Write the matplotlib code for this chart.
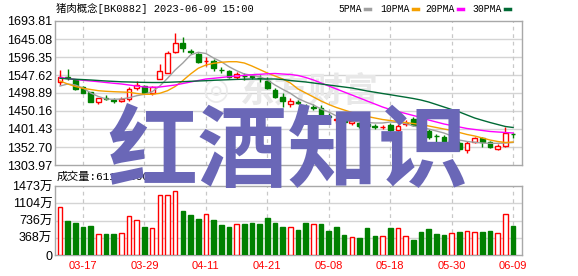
import matplotlib
matplotlib.use("Agg")
import matplotlib.pyplot as plt
from matplotlib.lines import Line2D

plt.rcParams['font.family'] = ['Liberation Sans', 'Noto Sans CJK SC']

# ---------------- data ----------------
opens = [1527.9, 1541.7, 1534.1, 1515.1, 1501.6, 1475.3, 1485.4, 1479.4, 1476.7, 1484.0,
         1511.1, 1516.5, 1498.1, 1538.1, 1553.8, 1610.7, 1633.4, 1611.5, 1603.9, 1585.0,
         1584.2, 1562.0, 1558.4, 1543.0, 1545.7, 1543.8, 1540.3, 1532.2, 1505.7, 1488.9,
         1467.8, 1474.5, 1461.8, 1461.0, 1458.3, 1436.1, 1427.1, 1427.1, 1419.0, 1416.9,
         1415.0, 1408.5, 1406.0, 1412.3, 1398.7, 1415.5, 1427.7, 1409.6, 1396.0, 1383.3,
         1380.6, 1363.5, 1362.2, 1344.6, 1364.9, 1376.3, 1364.9, 1348.6, 1356.7, 1388.7]
highs = [1561.2, 1563.9, 1536.8, 1517.8, 1502.9, 1485.4, 1493.5, 1485.4, 1488.9, 1513.8,
         1530.8, 1521.9, 1517.8, 1576.6, 1613.4, 1661.3, 1649.7, 1618.0, 1608.5, 1595.0,
         1590.9, 1569.3, 1561.2, 1555.7, 1553.0, 1549.0, 1546.3, 1540.9, 1511.6, 1497.6,
         1484.5, 1479.1, 1469.1, 1469.1, 1466.4, 1443.9, 1434.7, 1433.9, 1429.9, 1421.7,
         1420.4, 1415.0, 1413.6, 1417.7, 1415.0, 1425.8, 1432.6, 1415.0, 1400.1, 1389.2,
         1385.2, 1379.8, 1367.6, 1368.9, 1380.6, 1379.8, 1367.6, 1359.5, 1406.0, 1390.5]
lows = [1520.6, 1534.1, 1507.0, 1497.6, 1473.7, 1467.8, 1478.6, 1470.5, 1474.0, 1477.2,
        1507.0, 1495.6, 1493.5, 1536.0, 1551.7, 1608.0, 1610.7, 1604.5, 1578.8, 1573.3,
        1558.4, 1553.0, 1538.2, 1536.8, 1534.1, 1536.8, 1530.0, 1508.4, 1484.5, 1460.2,
        1461.8, 1467.8, 1452.9, 1454.2, 1431.2, 1430.4, 1416.9, 1415.0, 1412.3, 1404.1,
        1402.8, 1401.4, 1400.1, 1393.3, 1390.6, 1408.2, 1409.6, 1393.3, 1375.7, 1364.9,
        1360.8, 1358.1, 1343.2, 1337.8, 1362.2, 1353.5, 1349.2, 1344.6, 1354.0, 1376.0]
closes = [1540.9, 1540.0, 1510.3, 1499.7, 1475.3, 1484.5, 1483.7, 1477.8, 1482.6, 1508.9,
          1520.0, 1497.6, 1514.3, 1557.1, 1606.4, 1634.3, 1620.7, 1609.9, 1582.8, 1586.3,
          1565.8, 1560.3, 1543.0, 1550.3, 1544.1, 1542.2, 1538.7, 1512.4, 1488.9, 1475.9,
          1478.0, 1472.9, 1460.2, 1459.4, 1434.7, 1434.5, 1428.5, 1420.4, 1423.1, 1409.6,
          1408.2, 1406.9, 1407.7, 1397.4, 1410.9, 1417.1, 1412.3, 1398.7, 1379.8, 1381.7,
          1362.7, 1371.6, 1346.0, 1363.5, 1376.3, 1365.4, 1352.7, 1355.4, 1389.8, 1387.0]

ma5 = [1517.8, 1523.3, 1520.5, 1512.4, 1498.9, 1489.4, 1482.6, 1481.8, 1482.6, 1486.2,
       1491.6, 1495.4, 1502.4, 1517.8, 1538.7, 1561.2, 1580.1, 1601.8, 1609.1, 1605.8,
       1593.6, 1583.6, 1570.1, 1559.3, 1550.3, 1546.8, 1543.0, 1534.1, 1520.5, 1508.9,
       1498.1, 1484.0, 1474.5, 1466.4, 1455.6, 1447.5, 1436.6, 1429.9, 1423.1, 1420.4,
       1419.0, 1417.7, 1417.7, 1420.4, 1419.0, 1416.3, 1409.6, 1405.5, 1401.4, 1396.0,
       1390.6, 1382.5, 1371.6, 1367.6, 1365.4, 1363.5, 1362.7, 1362.7, 1363.5, 1364.9]
ma10 = [1531.4, 1523.3, 1516.5, 1511.6, 1508.4, 1505.1, 1503.5, 1502.4, 1501.6, 1500.8,
        1497.5, 1495.4, 1495.4, 1498.1, 1505.1, 1516.5, 1532.7, 1550.3, 1565.8, 1574.7,
        1579.3, 1582.0, 1583.6, 1583.6, 1580.1, 1571.9, 1562.5, 1553.0, 1544.9, 1536.8,
        1526.0, 1509.7, 1498.9, 1488.1, 1477.2, 1467.8, 1459.6, 1452.9, 1446.1, 1440.7,
        1435.3, 1431.2, 1427.1, 1424.4, 1421.7, 1419.0, 1416.3, 1413.6, 1409.6, 1405.5,
        1401.4, 1397.4, 1392.0, 1386.6, 1382.5, 1377.1, 1371.6, 1367.6, 1364.9, 1366.2]
ma20 = [1541.4, 1538.1, 1535.4, 1533.3, 1531.4, 1529.5, 1527.3, 1525.2, 1523.3, 1520.5,
        1517.8, 1515.1, 1514.3, 1515.1, 1517.8, 1520.5, 1524.6, 1528.7, 1532.7, 1536.8,
        1538.7, 1540.9, 1543.0, 1544.9, 1546.8, 1548.2, 1549.5, 1550.9, 1551.7, 1550.3,
        1549.0, 1546.3, 1540.9, 1534.1, 1526.0, 1517.8, 1509.7, 1501.6, 1493.5, 1485.4,
        1477.2, 1469.1, 1461.0, 1454.2, 1448.8, 1443.4, 1438.0, 1432.6, 1425.8, 1420.4,
        1415.0, 1410.9, 1406.9, 1402.8, 1400.1, 1397.4, 1394.7, 1393.3, 1392.0, 1390.6]
ma30 = [1538.7, 1537.3, 1536.2, 1535.2, 1534.1, 1532.7, 1531.4, 1530.3, 1529.2, 1528.7,
        1528.1, 1527.6, 1527.3, 1527.3, 1527.9, 1528.7, 1529.5, 1530.6, 1531.4, 1532.2,
        1533.3, 1534.1, 1534.9, 1535.7, 1536.2, 1536.8, 1536.8, 1536.8, 1536.8, 1535.4,
        1532.7, 1530.6, 1528.7, 1526.0, 1523.3, 1520.5, 1517.8, 1515.1, 1512.4, 1508.4,
        1504.3, 1501.0, 1497.5, 1494.3, 1490.8, 1487.5, 1484.0, 1479.9, 1474.5, 1467.8,
        1461.0, 1454.2, 1447.5, 1439.3, 1431.2, 1425.0, 1419.0, 1413.6, 1408.2, 1405.5]

volumes = [1018, 726, 683, 598, 619, 441, 448, 448, 463, 826,
           747, 598, 569, 1274, 1274, 1360, 939, 854, 769, 868,
           747, 640, 598, 655, 662, 683, 662, 790, 683, 598,
           591, 534, 683, 655, 662, 512, 598, 427, 377, 363,
           576, 406, 406, 576, 576, 406, 327, 491, 555, 448,
           427, 463, 491, 512, 491, 491, 512, 463, 868, 619]
vol_up = [1, 0, 0, 0, 0, 1, 0, 0, 1, 1,
          1, 0, 1, 1, 1, 1, 0, 0, 0, 1,
          0, 0, 0, 1, 0, 0, 0, 0, 0, 0,
          1, 0, 0, 1, 0, 0, 0, 0, 1, 0,
          0, 0, 1, 0, 1, 1, 0, 0, 0, 0,
          0, 1, 0, 1, 1, 0, 0, 1, 1, 0]

date_labels = ['03-17', '03-29', '04-11', '04-21', '05-08', '05-18', '05-30', '06-09']
date_index = [3, 11, 19, 27, 35, 43, 51, 59]
price_ticks = ['1303.97', '1352.70', '1401.43', '1450.16', '1498.89',
               '1547.62', '1596.35', '1645.08', '1693.81']
vol_ticks = [0, 368, 736, 1104, 1473]
vol_tick_labels = ['0', '368万', '736万', '1104万', '1473万']

title = '猪肉概念[BK0882] 2023-06-09 15:00'
ma_names = ['5PMA', '10PMA', '20PMA', '30PMA']
vol_label = '成交量:61175800'
watermark = '红酒知识'
logo_text = '东方财富'

# ---------------- style ----------------
RED = '#ff0000'
GREEN = '#008000'
MA_COLORS = ['#a0a0a0', '#f5a000', '#ff00ff', '#006a35']
SPINE = '#a8a8a8'
GRID = '#d4d4d4'

W, H = 578, 276
fig = plt.figure(figsize=(W / 100, H / 100), dpi=100)
fig.patch.set_facecolor('white')

def fx(px):
    return px / W

def fy(py):
    return 1 - py / H

ax = fig.add_axes([fx(55), fy(165), fx(522) - fx(55), fy(21) - fy(165)])
axv = fig.add_axes([fx(55), fy(255), fx(522) - fx(55), fy(186) - fy(255)])

n = len(closes)
xs = list(range(n))
xlim = (-0.65, 60.16)

# ----- price panel -----
pt = [float(v) for v in price_ticks]
ax.set_xlim(*xlim)
ax.set_ylim(pt[0], pt[-1])
ax.set_yticks(pt)
ax.set_yticklabels(price_ticks, fontsize=9, color='black')
ax.set_xticks([])
ax.tick_params(axis='y', length=0, pad=2)
for y in pt[1:-1]:
    ax.axhline(y, color=GRID, lw=1.0, zorder=0.2)
for xi in date_index:
    ax.axvline(xi, color='#c8c8c8', lw=0.9, ls=(0, (3, 3)), zorder=0.2)

ax.text(32.5, 1505, logo_text, fontsize=25, color='#e8e8e8', ha='center', va='center',
        family=['Noto Sans CJK SC'], weight='bold', zorder=0.3)
ax.text(20.3, 1505, '◎', fontsize=22, color='#ebebeb', ha='center', va='center',
        family=['DejaVu Sans'], zorder=0.3)

bw = 0.62
for i in xs:
    o, h, l, c = opens[i], highs[i], lows[i], closes[i]
    up = c >= o
    col = RED if up else GREEN
    ax.vlines(i, l, h, color=col, lw=1.0, zorder=2)
    bot = min(o, c)
    hgt = max(abs(c - o), 0.6)
    ax.bar(i, hgt, bottom=bot, width=bw, facecolor='white' if up else GREEN,
           edgecolor=col, linewidth=1.0, zorder=3)

for vals, colr in zip([ma5, ma10, ma20, ma30], MA_COLORS):
    ax.plot(xs, vals, color=colr, lw=1.0, zorder=4)

for s in ax.spines.values():
    s.set_color(SPINE)
    s.set_linewidth(1.0)

# ----- volume panel -----
axv.set_xlim(*xlim)
axv.set_ylim(0, vol_ticks[-1])
axv.set_yticks(vol_ticks)
axv.set_yticklabels(vol_tick_labels, fontsize=9, color='black')
axv.tick_params(axis='y', length=0, pad=2)
for y in vol_ticks[1:-1]:
    axv.axhline(y, color=GRID, lw=1.0, zorder=0.2)
for xi in date_index:
    axv.axvline(xi, color='#c8c8c8', lw=0.9, ls=(0, (3, 3)), zorder=0.2)
for i in xs:
    up = vol_up[i] == 1
    axv.bar(i, volumes[i], width=0.6, facecolor='white' if up else GREEN,
            edgecolor=RED if up else GREEN, linewidth=1.0, zorder=3)
axv.set_xticks(date_index)
axv.set_xticklabels(date_labels, fontsize=8, color=RED)
axv.tick_params(axis='x', length=0, pad=4)
for s in axv.spines.values():
    s.set_color(SPINE)
    s.set_linewidth(1.0)

# ----- texts -----
fig.text(fx(56), fy(9), title, fontsize=7.5, va='center', ha='left',
         family=['Liberation Mono', 'Noto Sans CJK SC'])
fig.text(fx(57), fy(177), vol_label, fontsize=8, va='center', ha='left',
         family=['Liberation Mono', 'Noto Sans CJK SC'])

leg_x = [338, 380, 425, 472]
for name, colr, lx in zip(ma_names, MA_COLORS, leg_x):
    fig.text(fx(lx), fy(9), name, fontsize=7, va='center', ha='left',
             family=['Liberation Mono'])
    tw = len(name) * 5.85
    fig.add_artist(Line2D([fx(lx + tw + 4), fx(lx + tw + 9)], [fy(9), fy(9)],
                          color=colr, lw=2.5, transform=fig.transFigure))

fig.text(fx(288), fy(153), watermark, fontsize=65, color='#6a67b7', ha='center',
         va='center', weight='bold', family=['Noto Sans CJK SC'], zorder=10)

fig.savefig('out.png', dpi=100)
